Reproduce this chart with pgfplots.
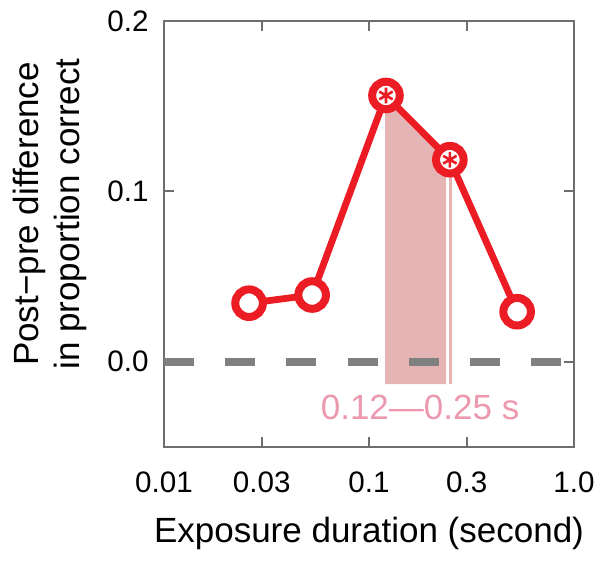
\documentclass[border=0pt]{standalone}
\usepackage{pgfplots}
\pgfplotsset{compat=1.18}
\usepackage{fontspec}
\setmainfont{Liberation Sans}
\definecolor{myred}{RGB}{236,28,36}
\definecolor{shade}{RGB}{229,181,181}
\definecolor{pinktext}{RGB}{236,152,174}
\definecolor{axgray}{RGB}{110,110,110}
\definecolor{dashgray}{RGB}{128,128,128}
\begin{document}
\begin{tikzpicture}
\useasboundingbox (-82pt,-60.5pt) rectangle (220pt,223.5pt);
\begin{axis}[
  at={(0,0)}, anchor=south west,
  scale only axis, width=205pt, height=213pt,
  xmode=log, xmin=0.01, xmax=1, ymin=-0.05, ymax=0.2,
  xtick={0.01,0.03,0.1,0.3,1}, xticklabels={0.01,0.03,0.1,0.3,1.0},
  ytick={0,0.1,0.2}, yticklabels={0.0,0.1,0.2},
  xminorticks=false, yminorticks=false,
  /pgf/number format/assume math mode=true,
  tick align=inside, major tick length=5pt,
  axis line style={axgray, line width=1pt},
  tick style={axgray, line width=1pt},
  tick label style={font=\fontsize{14.8}{17}\selectfont, inner sep=0pt},
  xticklabel style={yshift=-12pt},
  yticklabel style={xshift=-7.5pt},
  label style={font=\fontsize{17.5}{20.5}\selectfont},
  xlabel={Exposure duration (second)},
  xlabel style={at={(axis description cs:0.5,-0.223)}, anchor=base},
  ylabel={Post−pre difference\\in proportion correct},
  ylabel style={at={(axis description cs:-0.2793,0.547)}, anchor=center, align=center},
]
% shaded window
\addplot[fill=shade, draw=none] coordinates {(0.12,-0.0131) (0.12,0.1563) (0.2375,0.1209) (0.2375,-0.0131)} -- cycle;
\addplot[fill=shade, draw=none] coordinates {(0.2455,-0.0131) (0.2455,0.118) (0.2535,0.118) (0.2535,-0.0131)} -- cycle;
% zero line
\addplot[dashgray, line width=4pt, dash pattern=on 15pt off 15.6pt] coordinates {(0.01,0) (1,0)};
% data
\addplot[myred, line width=3.4pt, mark=*, mark size=6.9pt,
  mark options={fill=white, draw=myred, line width=4pt}]
  coordinates {(0.026,0.0344) (0.0528,0.0392) (0.121,0.1563) (0.248,0.1186) (0.528,0.0294)};
\addplot[myred, only marks, mark=asterisk, mark size=3.9pt, mark options={line width=1.3pt}]
  coordinates {(0.121,0.1563) (0.248,0.1186)};
\node[pinktext, font=\fontsize{17.5}{20}\selectfont] at (axis cs:0.1775,-0.0266) {0.12—0.25 s};
\end{axis}
\end{tikzpicture}
\end{document}
